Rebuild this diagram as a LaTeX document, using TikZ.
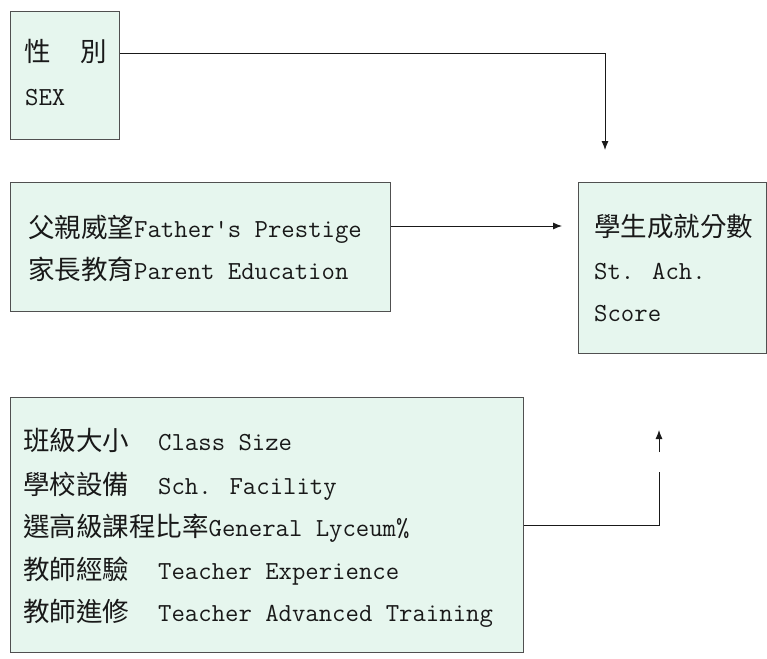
\documentclass[tikz,border=0pt]{standalone}
\usepackage{fontspec}
\newfontfamily\cjk{Noto Sans CJK TC}
\usetikzlibrary{arrows.meta}
\definecolor{boxfill}{RGB}{230,246,238}
\definecolor{boxline}{RGB}{80,80,80}
\definecolor{ink}{RGB}{25,25,25}
\tikzset{
  box/.style={draw=boxline, line width=1.1pt, fill=boxfill, anchor=north west, inner sep=0pt},
  txt/.style={anchor=base west, inner sep=0pt, text=ink, font=\fontsize{26}{29}\ttfamily},
  conn/.style={draw=ink, line width=0.9pt},
  arr/.style={conn, -{Latex[length=9pt,width=7pt]}},
}
\newcommand{\cj}[1]{{\fontsize{26.5}{29}\cjk #1}}
\begin{document}
\begin{tikzpicture}[x=1pt,y=-1pt]
\useasboundingbox (0,0) rectangle (767,658);
% boxes
\node[box, minimum width=109pt, minimum height=128pt] (sex) at (10,11) {};
\node[box, minimum width=380pt, minimum height=129pt] (par) at (10,182) {};
\node[box, minimum width=188pt, minimum height=171pt] (ach) at (578,182) {};
\node[box, minimum width=513pt, minimum height=255pt] (sch) at (10,397) {};
% texts
\node[txt] (t1a) at (24,62) {\cj{性\hspace{30pt}別}};
\node[txt] (t1b) at (25,106) {SEX};
\node[txt] (t2a) at (28,237) {\cj{父親威望}Father's Prestige};
\node[txt] (t2b) at (28,279) {\cj{家長教育}Parent Education};
\node[txt] (t3a) at (594,236) {\cj{學生成就分數}};
\node[txt] (t3b) at (594,279) {St. Ach.};
\node[txt] (t3c) at (594,321) {Score};
\node[txt] (t4a) at (23,450) {\cj{班級大小}\hspace{29pt}Class Size};
\node[txt] (t4b) at (23,494) {\cj{學校設備}\hspace{29pt}Sch. Facility};
\node[txt] (t4c) at (23,536) {\cj{選高級課程比率}General Lyceum\%};
\node[txt] (t4d) at (23,579) {\cj{教師經驗}\hspace{29pt}Teacher Experience};
\node[txt] (t4e) at (23,621) {\cj{教師進修}\hspace{29pt}Teacher Advanced Training};
% connector ends
\coordinate (e1) at (605,150);
\coordinate (e2) at (562,226);
\coordinate (c4) at (659,472);
\coordinate (s4) at (659,452);
\coordinate (e4) at (659,430);
% connectors
\draw[arr] ([yshift=-42pt]sex.north east) -| (e1);
\draw[arr] ([yshift=-44pt]par.north east) -- (e2);
\draw[conn] (sch.east) -| (c4);
\draw[arr] (s4) -- (e4);
\end{tikzpicture}
\end{document}
